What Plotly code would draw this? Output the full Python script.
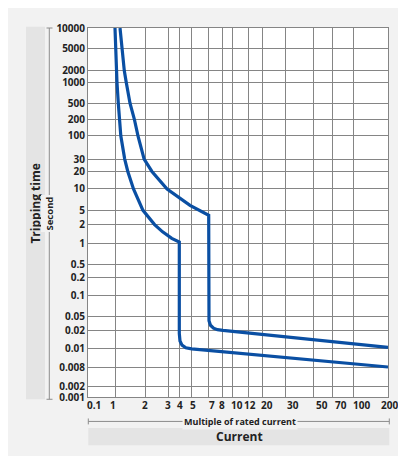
import numpy as np
import plotly.graph_objects as go

# ---------------- data ----------------
x_tick_values = [0.1, 1, 2, 3, 4, 5, 7, 8, 10, 12, 20, 30, 50, 70, 100, 200]
x_tick_labels = ["0.1", "1", "2", "3", "4", "5", "7", "8", "10", "12", "20", "30", "50", "70", "100", "200"]
y_tick_values = [10000, 5000, 2000, 1000, 500, 200, 100, 30, 20, 10, 5, 2, 1,
                 0.5, 0.2, 0.1, 0.05, 0.02, 0.01, 0.008, 0.002, 0.001]
y_tick_labels = ["10000", "5000", "2000", "1000", "500", "200", "100", "30", "20", "10", "5", "2", "1",
                 "0.5", "0.2", "0.1", "0.05", "0.02", "0.01", "0.008", "0.002", "0.001"]

# lower curve (multiple of rated current, tripping time s)
lower_current = [1.0, 1.016, 1.03, 1.046, 1.077, 1.112, 1.14, 1.245, 1.335, 1.518, 1.88, 2.35, 2.72, 3.3, 4.0,
                 4.0, 4.05, 4.2, 4.5, 5.0, 200]
lower_time = [10000, 5000, 2000, 1000, 500, 200, 100, 30, 20, 10, 5, 2, 1.53, 1.2, 1.05,
              0.018, 0.0135, 0.0115, 0.0104, 0.01, 0.008]
# upper curve
upper_current = [1.12, 1.163, 1.234, 1.291, 1.403, 1.546, 1.68, 1.93, 2.24, 2.95, 4.85, 7.0,
                 7.0, 7.02, 7.12, 7.33, 7.61, 8.05, 200]
upper_time = [10000, 5000, 2000, 1000, 500, 200, 100, 30, 20, 10, 5.88, 3.64,
              0.052, 0.0385, 0.0287, 0.0236, 0.0214, 0.0204, 0.0106]

# ---------------- layout geometry (screen pixels) ----------------
OFF = 8                      # page body margin
W, H = 398, 448
L, R, T, B = 88, 388, 24, 397
X_GRID_PX = [88, 115, 145.7, 168, 179.3, 191.7, 208.7, 222.7, 232.3, 248.3, 262, 285.3, 313.3, 332.3, 353.7, 388]
X_LABEL_PX = [94, 113, 145, 168, 180, 193, 212, 222, 237, 250, 267, 293, 322, 341, 361, 389]
Y_GRID_PX = [24, 44.3, 67.3, 79.3, 100, 116, 133, 156.5, 169, 186.7, 208.3, 222.7, 241.7,
             262.7, 276.7, 294.3, 316, 330, 348.3, 366.7, 386.7, 397]

lx = np.log10(x_tick_values)
ly = np.log10(y_tick_values)[::-1]
gy = np.array(Y_GRID_PX)[::-1]


def xscale(v):
    return np.interp(np.log10(v), lx, X_GRID_PX)


def yscale(v):
    return np.interp(np.log10(v), ly, gy)


def PX(px):
    return (px - L) / (R - L)


def PY(py):
    return (B - py) / (B - T)


BLUE = "#0a4fa3"
TXT = "#222222"
FONT = "Open Sans"

fig = go.Figure()
for xs, ts in [(lower_current, lower_time), (upper_current, upper_time)]:
    fig.add_trace(go.Scatter(x=xscale(xs), y=yscale(ts), mode="lines",
                             line=dict(color=BLUE, width=3.2), hoverinfo="skip",
                             showlegend=False))

shapes = []
# left bar
shapes.append(dict(type="rect", xref="paper", yref="paper", x0=PX(26), x1=PX(45), y0=PY(399.3), y1=PY(22.7),
                   fillcolor="#e4e4e4", line=dict(width=0), layer="below"))
# bottom bar
shapes.append(dict(type="rect", xref="paper", yref="paper", x0=PX(88.3), x1=PX(389.3), y0=PY(445.7), y1=PY(428.3),
                   fillcolor="#e4e4e4", line=dict(width=0), layer="below"))
LC = "#8c8c8c"
# vertical bracket line
shapes.append(dict(type="line", xref="paper", yref="paper", x0=PX(49.3), x1=PX(49.3), y0=PY(24), y1=PY(399.3),
                   line=dict(color=LC, width=1)))
for yy in (24, 399.3):
    shapes.append(dict(type="line", xref="paper", yref="paper", x0=PX(46.5), x1=PX(52.5), y0=PY(yy), y1=PY(yy),
                       line=dict(color=LC, width=1)))
# horizontal bracket line
shapes.append(dict(type="line", xref="paper", yref="paper", x0=PX(88.3), x1=PX(389.3), y0=PY(421.7), y1=PY(421.7),
                   line=dict(color=LC, width=1)))
for xx in (88.3, 389.3):
    shapes.append(dict(type="line", xref="paper", yref="paper", x0=PX(xx), x1=PX(xx), y0=PY(418.7), y1=PY(424.7),
                       line=dict(color=LC, width=1)))

annotations = []
for lab, px in zip(x_tick_labels, X_LABEL_PX):
    annotations.append(dict(text=lab, xref="paper", yref="paper", x=PX(px), y=PY(405.5), showarrow=False,
                            font=dict(family=FONT, size=10, color=TXT, weight="bold"),
                            xanchor="center", yanchor="middle"))
annotations.append(dict(text="Tripping time", xref="paper", yref="paper", x=PX(35.5), y=PY(202), showarrow=False,
                        textangle=-90, xanchor="center", yanchor="middle",
                        font=dict(family=FONT, size=12, color=TXT, weight="bold")))
annotations.append(dict(text="Second", xref="paper", yref="paper", x=PX(49.5), y=PY(212), showarrow=False,
                        textangle=-90, bgcolor="#f2f2f2", borderpad=1, xanchor="center", yanchor="middle",
                        font=dict(family=FONT, size=9.5, color=TXT, weight="bold")))
annotations.append(dict(text="Multiple of rated current", xref="paper", yref="paper", x=PX(240), y=PY(421.7),
                        showarrow=False, bgcolor="#f2f2f2", borderpad=1, xanchor="center", yanchor="middle",
                        font=dict(family=FONT, size=9, color=TXT, weight="bold")))
annotations.append(dict(text="Current", xref="paper", yref="paper", x=PX(239), y=PY(437), showarrow=False,
                        xanchor="center", yanchor="middle",
                        font=dict(family=FONT, size=12, color=TXT, weight="bold")))

GC = "#858585"
fig.update_layout(
    width=W, height=H,
    margin=dict(l=L - OFF, r=OFF + W - R, t=T - OFF, b=OFF + H - B, pad=0),
    paper_bgcolor="#f2f2f2", plot_bgcolor="white",
    shapes=shapes, annotations=annotations,
    xaxis=dict(range=[L, R], tickvals=X_GRID_PX, showticklabels=False, ticks="",
               showgrid=True, gridcolor=GC, gridwidth=1, zeroline=False,
               showline=True, mirror=True, linecolor=GC, linewidth=1, fixedrange=True),
    yaxis=dict(range=[B, T], tickvals=Y_GRID_PX, ticktext=y_tick_labels, ticks="",
               tickfont=dict(family=FONT, size=10, color=TXT, weight="bold"),
               showgrid=True, gridcolor=GC, gridwidth=1, zeroline=False,
               showline=True, mirror=True, linecolor=GC, linewidth=1, fixedrange=True),
    showlegend=False,
)

fig.write_html("out.html")
